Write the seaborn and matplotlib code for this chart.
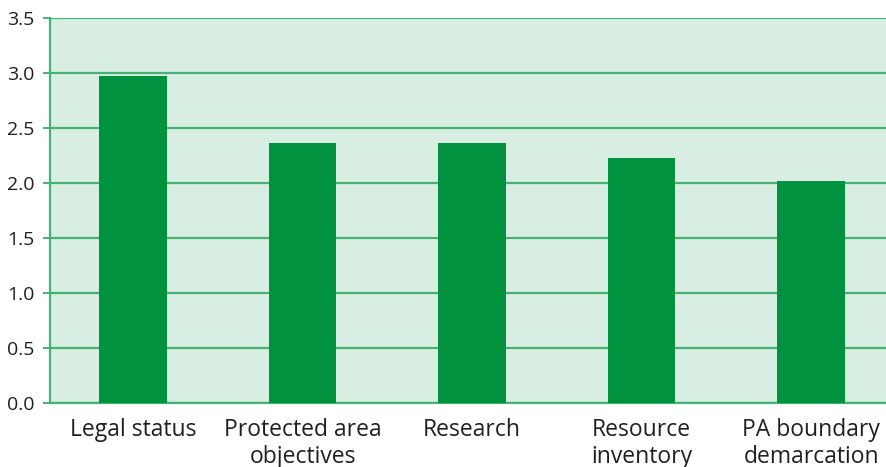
import matplotlib
matplotlib.use("Agg")
import matplotlib.pyplot as plt
import seaborn as sns
import pandas as pd

categories = ["Legal status", "Protected area\nobjectives", "Research",
              "Resource\ninventory", "PA boundary\ndemarcation"]
values = [2.97, 2.36, 2.36, 2.23, 2.02]
yticks = [0.0, 0.5, 1.0, 1.5, 2.0, 2.5, 3.0, 3.5]

df = pd.DataFrame({"category": categories, "value": values})

sns.set_theme(style="white")
plt.rcParams['font.family'] = ['Open Sans', 'DejaVu Sans']

GREEN = "#00923f"
GRID = "#45b172"
BG = "#d9eee2"
TXT = "#231f20"

fig = plt.figure(figsize=(8.87, 4.67), dpi=100)
ax = fig.add_axes([50 / 887, (467 - 403) / 467, 837 / 887, (403 - 18) / 467])
ax.set_facecolor(BG)

sns.barplot(data=df, x="category", y="value", color=GREEN, saturation=1,
            width=0.4, linewidth=0, edgecolor="none", ax=ax, zorder=3)

ax.set_ylim(0, 3.5)
ax.set_xlim(-0.49, 4.448)
ax.set_yticks(yticks)
ax.set_yticklabels([f"{t:.1f}" for t in yticks])
ax.yaxis.grid(True, color=GRID, linewidth=1.6, zorder=1)
ax.set_axisbelow(True)
ax.set_xlabel("")
ax.set_ylabel("")

for s in ["top", "right"]:
    ax.spines[s].set_visible(False)
for s in ["left", "bottom"]:
    ax.spines[s].set_color(GRID)
    ax.spines[s].set_linewidth(1.6)

ax.tick_params(axis="y", length=5, width=1.4, color=GRID, labelsize=14,
               labelcolor=TXT, left=True, pad=6)
ax.tick_params(axis="x", length=0, labelsize=16.5, labelcolor=TXT, pad=11)
for lbl in ax.get_xticklabels():
    lbl.set_linespacing(1.15)

fig.savefig("out.png", dpi=100, facecolor="white")
